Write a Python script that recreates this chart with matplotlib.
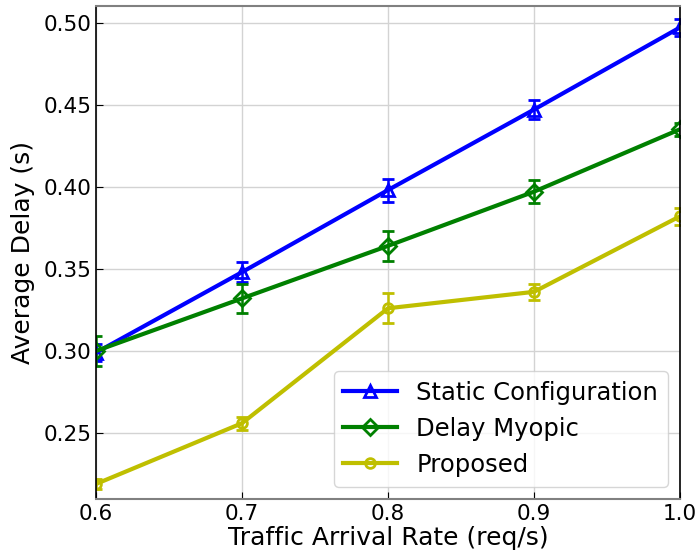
import numpy as np
import matplotlib.pyplot as plt
from matplotlib.lines import Line2D

# arrival rates and measured delays
rates = [0.6, 0.7, 0.8, 0.9, 1.0]

static_delay = [0.299, 0.348, 0.398, 0.447, 0.497]
static_err = [0.005, 0.006, 0.007, 0.006, 0.005]

myopic_delay = [0.300, 0.332, 0.364, 0.397, 0.435]
myopic_err = [0.009, 0.009, 0.009, 0.007, 0.004]

proposed_delay = [0.219, 0.256, 0.326, 0.336, 0.382]
proposed_err = [0.003, 0.004, 0.009, 0.005, 0.005]

labels = ["Static Configuration", "Delay Myopic", "Proposed"]

if __name__ == "__main__":
    fig, ax = plt.subplots(figsize=(6.96, 5.56), dpi=100)

    series = [
        (static_delay, static_err, 'b', '^', 9),
        (myopic_delay, myopic_err, 'g', 'D', 8),
        (proposed_delay, proposed_err, 'y', 'o', 7),
    ]
    handles = []
    for (vals, err, col, mk, ms), lab in zip(series, labels):
        ax.errorbar(rates, vals, yerr=err, color=col, marker=mk,
                    markersize=ms, markerfacecolor='none', markeredgewidth=2,
                    linewidth=3, capsize=4, elinewidth=1.8, capthick=1.5)
        handles.append(Line2D([], [], color=col, marker=mk, markersize=ms,
                              markerfacecolor='none', markeredgewidth=2,
                              linewidth=3, label=lab))

    ax.set_xlim(0.6, 1.0)
    ax.set_ylim(0.21, 0.51)
    ax.set_xticks([0.6, 0.7, 0.8, 0.9, 1.0])
    ax.set_yticks([0.25, 0.30, 0.35, 0.40, 0.45, 0.50])
    ax.set_xticklabels(["0.6", "0.7", "0.8", "0.9", "1.0"])
    ax.set_yticklabels(["0.25", "0.30", "0.35", "0.40", "0.45", "0.50"])
    ax.tick_params(direction='in', labelsize=15.5, length=5)
    ax.grid(True, color='#d3d3d3', linewidth=1)
    ax.set_axisbelow(True)

    ax.spines['top'].set_color('#808080')
    ax.spines['bottom'].set_color('#808080')
    ax.spines['top'].set_linewidth(1.5)
    ax.spines['bottom'].set_linewidth(1.5)
    ax.spines['left'].set_color('black')
    ax.spines['right'].set_color('black')
    ax.spines['left'].set_linewidth(1.2)
    ax.spines['right'].set_linewidth(1.2)

    ax.set_xlabel("Traffic Arrival Rate (req/s)", fontsize=18, labelpad=2)
    ax.set_ylabel("Average Delay (s)", fontsize=18, labelpad=6)

    ax.legend(handles=handles, loc='lower right', fontsize=17.5, handlelength=2.2)

    plt.subplots_adjust(left=0.138, right=0.977, top=0.989, bottom=0.103)
    plt.savefig("out.png")
